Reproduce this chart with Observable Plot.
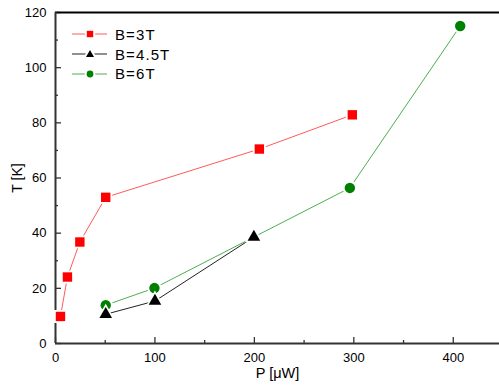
<!DOCTYPE html>
<html>
<head>
<meta charset="utf-8">
<script src="https://cdn.jsdelivr.net/npm/d3@7"></script>
<script src="https://cdn.jsdelivr.net/npm/@observablehq/plot@0.6"></script>
<style>
  html, body { margin: 0; padding: 0; background: #fff; }
  #wrap { position: relative; width: 499px; height: 387px; font-family: "Liberation Sans", Arial, sans-serif; }
  #legend { position: absolute; left: 72px; top: 24.5px; font-size: 15px; color: #000; letter-spacing: 1.1px; }
  #legend .row { display: flex; align-items: center; height: 19.8px; }
  #legend svg { margin-right: 8px; }
</style>
</head>
<body>
<div id="wrap"><div id="legend"></div></div>
<script>
// Data
const series = ["B=3T", "B=4.5T", "B=6T"];
const p3 = [5, 12, 24.5, 50.5, 205, 298.5];
const t3 = [9.8, 24.1, 36.8, 53, 70.5, 82.9];
const p45 = [50.5, 100, 199.5];
const t45 = [10.6, 15.4, 38.6];
const p6 = [50.5, 99.5, 199.5, 296, 407];
const t6 = [13.9, 20.1, 38.6, 56.4, 115.1];
const xMajor = [0, 100, 200, 300, 400];
const xMinor = [50, 150, 250, 350];
const yMajor = [0, 20, 40, 60, 80, 100, 120];
const yMinor = [10, 30, 50, 70, 90, 110];

const lineColors = ["#ff5a5a", "#222222", "#4caf50"];
const markColors = ["#ff0000", "#000000", "#008000"];
const symbols = ["square", "triangle", "circle"];
const radii = [5.3, 4.7, 5.2];
const drawOrder = [0, 2, 1]; // black triangles drawn on top

const rows = (ps, ts, s) => ps.map((p, i) => ({p, t: ts[i], s}));
const data = [rows(p3, t3, series[0]), rows(p45, t45, series[1]), rows(p6, t6, series[2])];
// the reference hides a marker where it coincides with a black triangle
const hiddenBy = (d, k) => k === 2 ? d.filter(a => !data[1].some(b => Math.abs(b.p - a.p) < 2 && Math.abs(b.t - a.t) < 2)) : d;

const marks = [];
data.forEach((d, k) => {
  marks.push(Plot.line(d, {x: "p", y: "t", stroke: lineColors[k], strokeWidth: 1}));
});
drawOrder.forEach(k => {
  const d = hiddenBy(data[k], k);
  marks.push(Plot.dot(d, {x: "p", y: "t", symbol: () => symbols[k], r: radii[k] + 2, fill: "white", stroke: "none"}));
  marks.push(Plot.dot(d, {x: "p", y: "t", symbol: () => symbols[k], r: radii[k], fill: markColors[k], stroke: "none"}));
});

const chart = Plot.plot({
  width: 499,
  height: 387,
  marginLeft: 55,
  marginRight: 0,
  marginTop: 12,
  marginBottom: 44,
  style: {fontFamily: "'Liberation Sans', Arial, sans-serif", color: "#000", background: "#fff", overflow: "visible"},
  x: {domain: [0, 446.5]},
  y: {domain: [0, 120]},
  symbol: {type: "identity"},
  marks: [
    Plot.axisX({ticks: xMajor, tickSize: -6, text: null, label: null, stroke: "#333", strokeWidth: 1.3}),
    Plot.axisX({ticks: xMinor, tickSize: -3, text: null, label: null, stroke: "#333", strokeWidth: 1.3}),
    Plot.axisX({ticks: xMajor, tickSize: 0, tickPadding: 9, fontSize: 13, tickFormat: d => String(d), label: null, style: {letterSpacing: "0.6px"}}),
    Plot.axisX({ticks: [], label: "P [\u03bcW]", labelAnchor: "center", labelArrow: "none", labelOffset: 34, fontSize: 14.5, style: {letterSpacing: "1px"}}),
    Plot.axisY({ticks: yMajor, tickSize: -6, text: null, label: null, stroke: "#333", strokeWidth: 1.3}),
    Plot.axisY({ticks: yMinor, tickSize: -3, text: null, label: null, stroke: "#333", strokeWidth: 1.3}),
    Plot.axisY({ticks: yMajor, tickSize: 0, tickPadding: 9, fontSize: 13, tickFormat: d => String(d), label: null, style: {letterSpacing: "0.6px"}}),
    Plot.axisY({ticks: [], label: "T [K]", labelAnchor: "center", labelArrow: "none", labelOffset: 43, fontSize: 14}),
    Plot.ruleY([120], {stroke: "#000", strokeWidth: 2}),
    Plot.ruleY([0], {stroke: "#333", strokeWidth: 2}),
    Plot.ruleX([0], {stroke: "#333", strokeWidth: 2}),
    ...marks
  ]
});
document.getElementById("wrap").prepend(chart);

// Legend
const legend = document.getElementById("legend");
const symPaths = {
  square: '<rect x="14.8" y="6.8" width="6.4" height="6.4"/>',
  triangle: '<path d="M18,6 L22,13 L14,13 Z"/>',
  circle: '<circle cx="18" cy="10" r="3.4"/>'
};
series.forEach((name, k) => {
  const row = document.createElement("div");
  row.className = "row";
  row.innerHTML = `<svg width="35" height="20"><line x1="0" x2="35" y1="10" y2="10" stroke="${lineColors[k]}" stroke-width="1"/>` +
    `<g fill="white" stroke="white" stroke-width="4">${symPaths[symbols[k]]}</g>` +
    `<g fill="${markColors[k]}">${symPaths[symbols[k]]}</g></svg><span>${name}</span>`;
  legend.appendChild(row);
});
</script>
</body>
</html>
